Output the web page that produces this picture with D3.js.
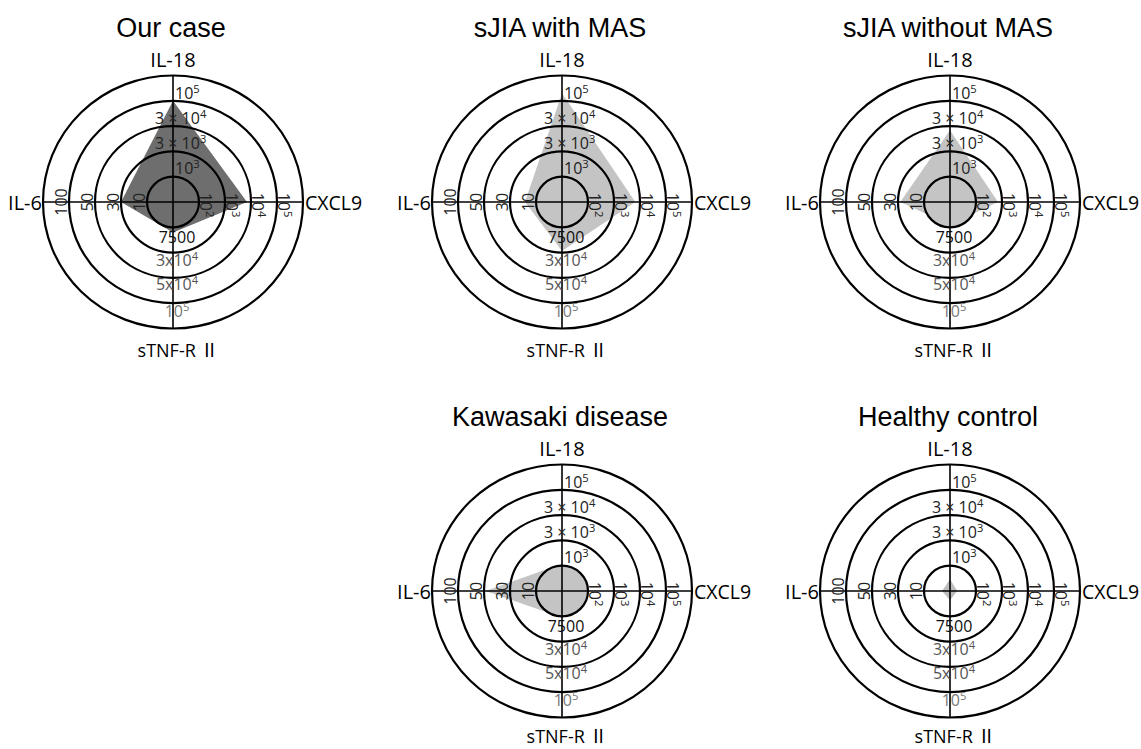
<!DOCTYPE html>
<html lang="en">
<head>
<meta charset="UTF-8">
<title>Cytokine profiles</title>
<script src="https://cdn.jsdelivr.net/npm/d3@7"></script>
<style>
  body { margin: 0; background: #fff; }
  text { font-family: "Open Sans", "Noto Sans", "Noto Sans CJK JP", sans-serif; }
  .title { font-family: "Liberation Sans", Arial, sans-serif; font-size: 27px; }
</style>
</head>
<body>
<div id="chart"></div>
<script>
  var titles = ["Our case", "sJIA with MAS", "sJIA without MAS", "Kawasaki disease", "Healthy control"];
  var axisNames = ["IL-18", "CXCL9", "sTNF-R \u2161", "IL-6"];

  // value at each ring level: centre, inner ring, then the 4 labelled rings
  var il18Levels = [10, 100, 1e3, 3e3, 3e4, 1e5];
  var cxcl9Levels = [1, 10, 1e2, 1e3, 1e4, 1e5];
  var stnfLevels = [100, 1000, 7500, 3e4, 5e4, 1e5];
  var il6Levels = [1, 3, 10, 30, 50, 100];

  var il18Labels = ["10^3", "3 \u00d7 10^3", "3 \u00d7 10^4", "10^5"];
  var cxcl9Labels = ["10^2", "10^3", "10^4", "10^5"];
  var stnfLabels = ["7500", "3x10^4", "5x10^4", "10^5"];
  var il6Labels = ["10", "30", "50", "100"];

  // one value per panel
  var il18 = [30000, 43000, 2500, 120, 29];
  var cxcl9 = [700, 660, 70, 12, 1.9];
  var stnf = [1500, 6600, 800, 1100, 230];
  var il6 = [10, 5, 9, 28, 1.4];

  var fills = ["#6e6e6e", "#c4c4c4", "#c4c4c4", "#c4c4c4", "#bdbdbd"];
  var coreFilled = [true, true, true, true, false];

  var w = 1141, h = 749;
  var svg = d3.select('#chart').append('svg')
    .attr('width', w).attr('height', h);

  // panel layout: 3 on top, 2 on the bottom right
  var colX = [173, 562, 950];
  var rowY = [202, 591];
  var slots = [[0, 0], [1, 0], [2, 0], [1, 1], [2, 1]];

  var ringX = d3.scaleLinear().domain([0, 5]).range([0, 130]);
  var ringY = d3.scaleLinear().domain([0, 5]).range([0, 126.5]);
  var levels = d3.range(6);

  function radial(vals, ring) {
    return d3.scaleLog().domain(vals).range(levels.map(ring));
  }
  var rIl18 = radial(il18Levels, ringY);
  var rCxcl9 = radial(cxcl9Levels, ringX);
  var rStnf = radial(stnfLevels, ringY);
  var rIl6 = radial(il6Levels, ringX);

  function label(sel, str) {
    var parts = str.split('^');
    sel.text(parts[0]);
    if (parts[1]) sel.append('tspan').attr('dy', -6).attr('font-size', '0.7em').text(parts[1]);
  }

  var line = d3.line().curve(d3.curveLinearClosed);

  titles.forEach(function(t, i) {
    var cx = colX[slots[i][0]], cy = rowY[slots[i][1]];
    var g = svg.append('g').attr('transform', 'translate(' + cx + ',' + cy + ')');

    if (coreFilled[i]) {
      g.append('ellipse')
        .attr('rx', ringX(1)).attr('ry', ringY(1))
        .attr('fill', fills[i]);
    }

    var pts = [
      [0, -rIl18(il18[i])],
      [rCxcl9(cxcl9[i]), 0],
      [0, rStnf(stnf[i])],
      [-rIl6(il6[i]), 0]
    ];
    g.append('path').attr('d', line(pts)).attr('fill', fills[i]);

    g.selectAll('ellipse.ring').data(levels.slice(1)).enter()
      .append('ellipse').attr('class', 'ring')
      .attr('rx', d => ringX(d)).attr('ry', d => ringY(d))
      .attr('fill', 'none').attr('stroke', '#000').attr('stroke-width', 2.2);

    g.append('line').attr('x1', 0).attr('x2', 0)
      .attr('y1', -ringY(5)).attr('y2', ringY(5))
      .attr('stroke', '#000').attr('stroke-width', 1.6);
    g.append('line').attr('y1', 0).attr('y2', 0)
      .attr('x1', -ringX(5)).attr('x2', ringX(5))
      .attr('stroke', '#000').attr('stroke-width', 1.6);

    // IL-18 ticks (up)
    g.selectAll('text.il18').data(il18Labels).enter().append('text')
      .attr('class', 'il18')
      .attr('x', d => d.indexOf('\u00d7') > 0 ? -18 : 2)
      .attr('y', (d, k) => -ringY(k + 2) + 23)
      .attr('font-size', '16px').attr('fill', '#222')
      .each(function(d) { label(d3.select(this), d); });

    // CXCL9 ticks (right, rotated)
    g.selectAll('text.cx').data(cxcl9Labels).enter().append('text')
      .attr('class', 'cx')
      .attr('transform', (d, k) => 'translate(' + (ringX(k + 2) - 25) + ',3) rotate(90)')
      .attr('text-anchor', 'middle')
      .attr('font-size', '16px').attr('fill', '#222')
      .each(function(d) { label(d3.select(this), d); });

    // IL-6 ticks (left, rotated)
    g.selectAll('text.il6').data(il6Labels).enter().append('text')
      .attr('class', 'il6')
      .attr('transform', (d, k) => 'translate(' + (-ringX(k + 2) + 23.5) + ',0) rotate(-90)')
      .attr('text-anchor', 'middle')
      .attr('font-size', '16px').attr('fill', '#222')
      .each(function(d) { label(d3.select(this), d); });

    // sTNF-R II ticks (down)
    g.selectAll('text.stnf').data(stnfLabels).enter().append('text')
      .attr('class', 'stnf')
      .attr('x', 4)
      .attr('y', (d, k) => ringY(k + 2) - [10, 12, 13, 11.5][k])
      .attr('text-anchor', 'middle')
      .attr('font-size', '16px')
      .attr('fill', (d, k) => ['#111', '#555', '#555', '#777'][k])
      .each(function(d) { label(d3.select(this), d); });

    // axis names
    g.append('text').text(axisNames[0])
      .attr('x', 0).attr('y', -135).attr('text-anchor', 'middle').attr('font-size', '20px');
    g.append('text').text(axisNames[1])
      .attr('x', ringX(5) + 2).attr('y', 7.5).attr('font-size', '19.5px');
    var sn = axisNames[2].split(' ');
    var st = g.append('text')
      .attr('x', 5).attr('y', slots[i][1] ? 152 : 155)
      .attr('text-anchor', 'middle').attr('font-size', '18px');
    st.append('tspan').text(sn[0] + ' ');
    st.append('tspan').style('font-family', '"Noto Sans CJK JP"').text(sn[1]);
    g.append('text').text(axisNames[3])
      .attr('x', -ringX(5) - 1).attr('y', 7.5).attr('text-anchor', 'end').attr('font-size', '20px');

    g.append('text').attr('class', 'title').text(t)
      .attr('x', -2).attr('y', -165).attr('text-anchor', 'middle');
  });
</script>
</body>
</html>
